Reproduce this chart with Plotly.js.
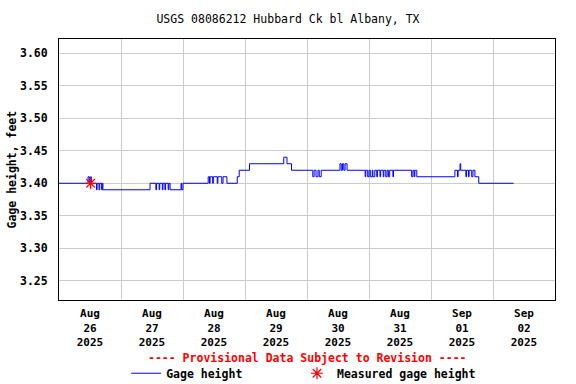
<!DOCTYPE html>
<html>
<head>
<meta charset="utf-8">
<script src="https://cdn.plot.ly/plotly-3.0.1.min.js"></script>
<style>html,body{margin:0;padding:0;background:#fff;}#chart{width:576px;height:384px;}</style>
</head>
<body>
<div id="chart"></div>
<script>
// Gage height step series (breakpoints)
const gageTimes = [
  "2025-08-26 00:00","2025-08-26 11:15","2025-08-26 11:45","2025-08-26 12:15","2025-08-26 12:30",
  "2025-08-26 14:30","2025-08-26 14:45","2025-08-26 15:30","2025-08-26 15:45","2025-08-26 16:30",
  "2025-08-26 16:45","2025-08-26 17:00",
  "2025-08-27 11:15","2025-08-27 13:30","2025-08-27 13:45","2025-08-27 14:45","2025-08-27 15:00",
  "2025-08-27 16:00","2025-08-27 16:15","2025-08-27 17:00","2025-08-27 17:15","2025-08-27 18:15",
  "2025-08-27 18:30","2025-08-27 19:00","2025-08-27 23:15","2025-08-27 23:30",
  "2025-08-28 00:00","2025-08-28 09:45","2025-08-28 10:15","2025-08-28 10:30","2025-08-28 11:30",
  "2025-08-28 11:45","2025-08-28 13:15","2025-08-28 13:30","2025-08-28 15:00","2025-08-28 15:30",
  "2025-08-28 17:00","2025-08-28 21:00","2025-08-28 21:45",
  "2025-08-29 01:45","2025-08-29 15:00","2025-08-29 16:15","2025-08-29 18:00",
  "2025-08-30 02:15","2025-08-30 02:45","2025-08-30 03:30","2025-08-30 04:15","2025-08-30 04:45",
  "2025-08-30 05:30","2025-08-30 12:45","2025-08-30 13:15","2025-08-30 13:45","2025-08-30 14:15",
  "2025-08-30 14:45","2025-08-30 15:30","2025-08-30 22:30","2025-08-30 22:45","2025-08-30 23:30",
  "2025-08-31 00:00","2025-08-31 00:30","2025-08-31 01:15","2025-08-31 01:30","2025-08-31 02:15",
  "2025-08-31 03:00","2025-08-31 03:15","2025-08-31 04:15","2025-08-31 04:30","2025-08-31 05:30",
  "2025-08-31 05:45","2025-08-31 06:30","2025-08-31 07:00","2025-08-31 07:30","2025-08-31 08:00",
  "2025-08-31 09:15","2025-08-31 09:30","2025-08-31 16:30","2025-08-31 17:00","2025-08-31 17:30",
  "2025-08-31 17:45","2025-08-31 18:30",
  "2025-09-01 09:15","2025-09-01 10:15","2025-09-01 10:30","2025-09-01 11:15","2025-09-01 11:30",
  "2025-09-01 13:30","2025-09-01 13:45","2025-09-01 14:30","2025-09-01 14:45","2025-09-01 15:45",
  "2025-09-01 16:15","2025-09-01 17:00","2025-09-01 18:30",
  "2025-09-02 08:00"
];
const gageValues = [
  3.40,3.41,3.40,3.41,3.40,
  3.39,3.40,3.39,3.40,3.39,
  3.40,3.39,
  3.40,3.39,3.40,3.39,3.40,
  3.39,3.40,3.39,3.40,3.39,
  3.40,3.39,3.40,3.39,
  3.40,3.41,3.40,3.41,3.40,
  3.41,3.40,3.41,3.40,3.41,
  3.40,3.41,3.42,
  3.43,3.44,3.43,3.42,
  3.41,3.42,3.41,3.42,3.41,
  3.42,3.43,3.42,3.43,3.42,
  3.43,3.42,3.41,3.42,3.41,
  3.42,3.41,3.42,3.41,3.42,
  3.41,3.42,3.41,3.42,3.41,
  3.42,3.41,3.42,3.41,3.42,
  3.41,3.42,3.41,3.42,3.41,
  3.42,3.41,
  3.42,3.41,3.42,3.43,3.42,
  3.41,3.42,3.41,3.42,3.41,
  3.42,3.41,3.40,
  3.40
];
// Field measurement
const measuredTimes = ["2025-08-26 12:15"];
const measuredValues = [3.40];

const titleText = "USGS 08086212 Hubbard Ck bl Albany, TX";
const yTitle = "Gage height, feet";
const provisionalText = "---- Provisional Data Subject to Revision ----";
const yTicks = [3.25,3.30,3.35,3.40,3.45,3.50,3.55,3.60];
const xRange = ["2025-08-26 00:00","2025-09-03 00:00"];
const yRange = [3.2207,3.6216];

const F = "DejaVu Sans Mono, monospace";
const legendFont = {family: F, size: 11.5, weight: "bold"};

const traces = [
  {x: gageTimes, y: gageValues, type: "scatter", mode: "lines", name: "Gage height",
   line: {color: "#0000ff", width: 1, shape: "hv"}, hoverinfo: "skip", legend: "legend"},
  {x: measuredTimes, y: measuredValues, type: "scatter", mode: "markers", name: "Measured gage height",
   marker: {symbol: "asterisk-open", size: 10, color: "#ff0000", line: {color: "#ff0000", width: 1.2}},
   legend: "legend2"}
];

const layout = {
  width: 576, height: 384,
  margin: {l: 59, r: 21, t: 39, b: 84, pad: 0},
  paper_bgcolor: "#ffffff", plot_bgcolor: "#ffffff",
  font: {family: F, size: 11.5, color: "#000"},
  title: {text: titleText, font: {family: F, size: 11.5, color: "#000"}, x: 0.5, xanchor: "center", y: 0.9505, yanchor: "middle", xref: "container", yref: "container"},
  xaxis: {
    type: "date", range: xRange, tick0: "2025-08-26", dtick: 86400000,
    ticklabelmode: "period", tickformat: "%b<br>%d<br>%Y",
    showgrid: true, gridcolor: "#cccccc", gridwidth: 1,
    showline: true, linecolor: "#000", linewidth: 1, mirror: true,
    ticks: "outside", ticklen: 3, tickcolor: "rgba(0,0,0,0)",
    tickfont: {family: F, size: 11, weight: "bold"}, zeroline: false
  },
  yaxis: {
    range: yRange, tickvals: yTicks, tickformat: ".2f",
    showgrid: true, gridcolor: "#cccccc", gridwidth: 1,
    showline: true, linecolor: "#000", linewidth: 1, mirror: true,
    ticks: "outside", ticklen: 8, tickcolor: "rgba(0,0,0,0)",
    tickfont: {family: F, size: 11.5, weight: "bold"}, zeroline: false
  },
  showlegend: true,
  legend: {orientation: "h", xref: "container", yref: "container", x: 0.219, y: 0.028,
    xanchor: "left", yanchor: "middle", font: legendFont, bgcolor: "rgba(0,0,0,0)"},
  legend2: {orientation: "h", xref: "container", yref: "container", x: 0.5156, y: 0.028,
    xanchor: "left", yanchor: "middle", font: legendFont, bgcolor: "rgba(0,0,0,0)"},
  annotations: [
    {text: provisionalText, xref: "paper", yref: "paper", x: 0.5, y: -0.222,
     xanchor: "center", yanchor: "middle", showarrow: false,
     font: {family: F, size: 11.5, color: "#ff0000", weight: "bold"}},
    {text: yTitle, xref: "paper", yref: "paper", x: -0.0948, y: 0.5, textangle: -90,
     xanchor: "center", yanchor: "middle", showarrow: false,
     font: {family: F, size: 11.5, color: "#000", weight: "bold"}}
  ]
};

Plotly.newPlot("chart", traces, layout, {displayModeBar: false, staticPlot: true});
</script>
</body>
</html>
